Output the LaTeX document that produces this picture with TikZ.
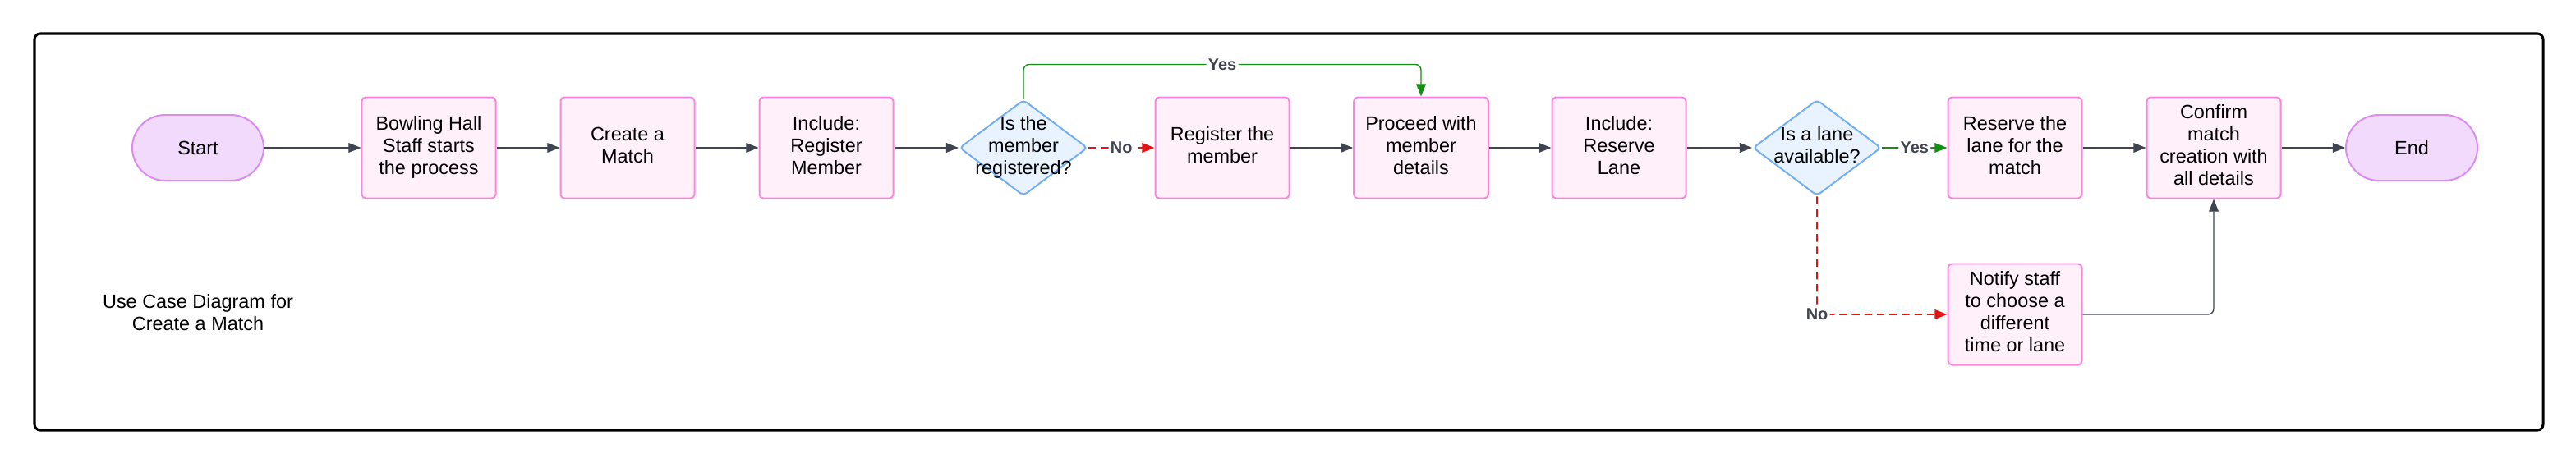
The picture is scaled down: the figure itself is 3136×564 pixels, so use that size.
\documentclass[tikz,border=0pt]{standalone}
\usepackage{fontspec}
\setmainfont{Liberation Sans}
\usetikzlibrary{arrows.meta,shapes.geometric}

\definecolor{boxfill}{HTML}{FFF0FA}
\definecolor{boxline}{HTML}{FB84DC}
\definecolor{termfill}{HTML}{F1DAFB}
\definecolor{termline}{HTML}{DA8CF2}
\definecolor{decfill}{HTML}{E9F3FF}
\definecolor{decline}{HTML}{72AEF2}
\definecolor{flowgray}{HTML}{3E4450}
\definecolor{yesgreen}{HTML}{148F14}
\definecolor{nored}{HTML}{E21414}

\tikzset{
	procbox/.style={draw=boxline,fill=boxfill,line width=0.85pt,rounded corners=2pt,minimum width=2.445cm,minimum height=1.845cm,inner sep=0pt},
	termbox/.style={draw=termline,fill=termfill,line width=0.85pt,rounded corners=0.6cm,minimum width=2.4cm,minimum height=1.2cm,inner sep=0pt},
	decision/.style={diamond,draw=decline,fill=decfill,line width=0.85pt,rounded corners=2pt,minimum width=2.34cm,minimum height=1.755cm,inner sep=0pt},
	flowarrow/.style={draw=flowgray,line width=0.6pt,-{Triangle[length=6.5pt,width=5pt]}},
	yesarrow/.style={draw=yesgreen,line width=0.6pt,rounded corners=3pt,-{Triangle[length=6.5pt,width=5pt]}},
	noarrow/.style={draw=nored,line width=0.8pt,dash pattern=on 4pt off 2.5pt,rounded corners=3pt,-{Triangle[length=6.5pt,width=5pt]}},
	edgelabel/.style={fill=white,inner sep=1pt,text=flowgray,font=\fontsize{8.5}{9}\selectfont\bfseries}
}

\begin{document}
\begin{tikzpicture}[x=0.015cm,y=-0.015cm,font=\fontsize{10}{11.5}\selectfont]
	\useasboundingbox (0,0) rectangle (3136,564);
	
	\draw[line width=1.3pt,rounded corners=3pt] (42,41) rectangle (3096,524);
	
	\node[align=center] (title) at (241,381){Use Case Diagram for\\ Create a Match};
	
	\node[termbox] (start) at (241,180){Start};
	\node[procbox] (staff) at (522,180){\begin{tabular}{c}Bowling Hall\\ Staff starts\\ the process\end{tabular}};
	\node[procbox] (create) at (764,180){\begin{tabular}{c}Create a\\ Match\end{tabular}};
	\node[procbox] (increg) at (1006,180){\begin{tabular}{c}Include:\\ Register\\ Member\end{tabular}};
	
	\node[decision] (isreg) at (1246,180){};
	\node at (isreg){\begin{tabular}{c}Is the\\ member\\ registered?\end{tabular}};
	
	\node[procbox] (regmem) at (1488,180){\begin{tabular}{c}Register the\\ member\end{tabular}};
	\node[procbox] (proceed) at (1730,180){\begin{tabular}{c}Proceed with\\ member\\ details\end{tabular}};
	\node[procbox] (incres) at (1971,180){\begin{tabular}{c}Include:\\ Reserve\\ Lane\end{tabular}};
	
	\node[decision] (lanefree) at (2212,180){};
	\node at (lanefree){\begin{tabular}{c}Is a lane\\ available?\end{tabular}};
	
	\node[procbox] (reserve) at (2453,180){\begin{tabular}{c}Reserve the\\ lane for the\\ match\end{tabular}};
	\node[procbox] (confirm) at (2695,180){\begin{tabular}{c}Confirm\\ match\\ creation with\\ all details\end{tabular}};
	\node[termbox] (end) at (2936,180){End};
	
	\node[procbox] (notify) at (2453,383){\begin{tabular}{c}Notify staff\\ to choose a\\ different\\ time or lane\end{tabular}};
	
	% main line
	\draw[flowarrow] (start) -- (staff);
	\draw[flowarrow] (staff) -- (create);
	\draw[flowarrow] (create) -- (increg);
	\draw[flowarrow] (increg) -- (isreg.west);
	\draw[noarrow] (isreg.east) -- node[edgelabel]{No} (regmem);
	\draw[yesarrow] (isreg.north) -- ++(0,-42) -| node[edgelabel,pos=0.25]{Yes} (proceed.north);
	\draw[flowarrow] (regmem) -- (proceed);
	\draw[flowarrow] (proceed) -- (incres);
	\draw[flowarrow] (incres) -- (lanefree.west);
	\draw[yesarrow] (lanefree.east) -- node[edgelabel]{Yes} (reserve);
	\draw[noarrow] (lanefree.south) |- node[edgelabel,pos=0.5]{No} (notify.west);
	\draw[flowarrow] (reserve) -- (confirm);
	\draw[flowarrow] (confirm) -- (end);
	\draw[flowarrow,rounded corners=3pt] (notify.east) -| (confirm.south);
\end{tikzpicture}
\end{document}
